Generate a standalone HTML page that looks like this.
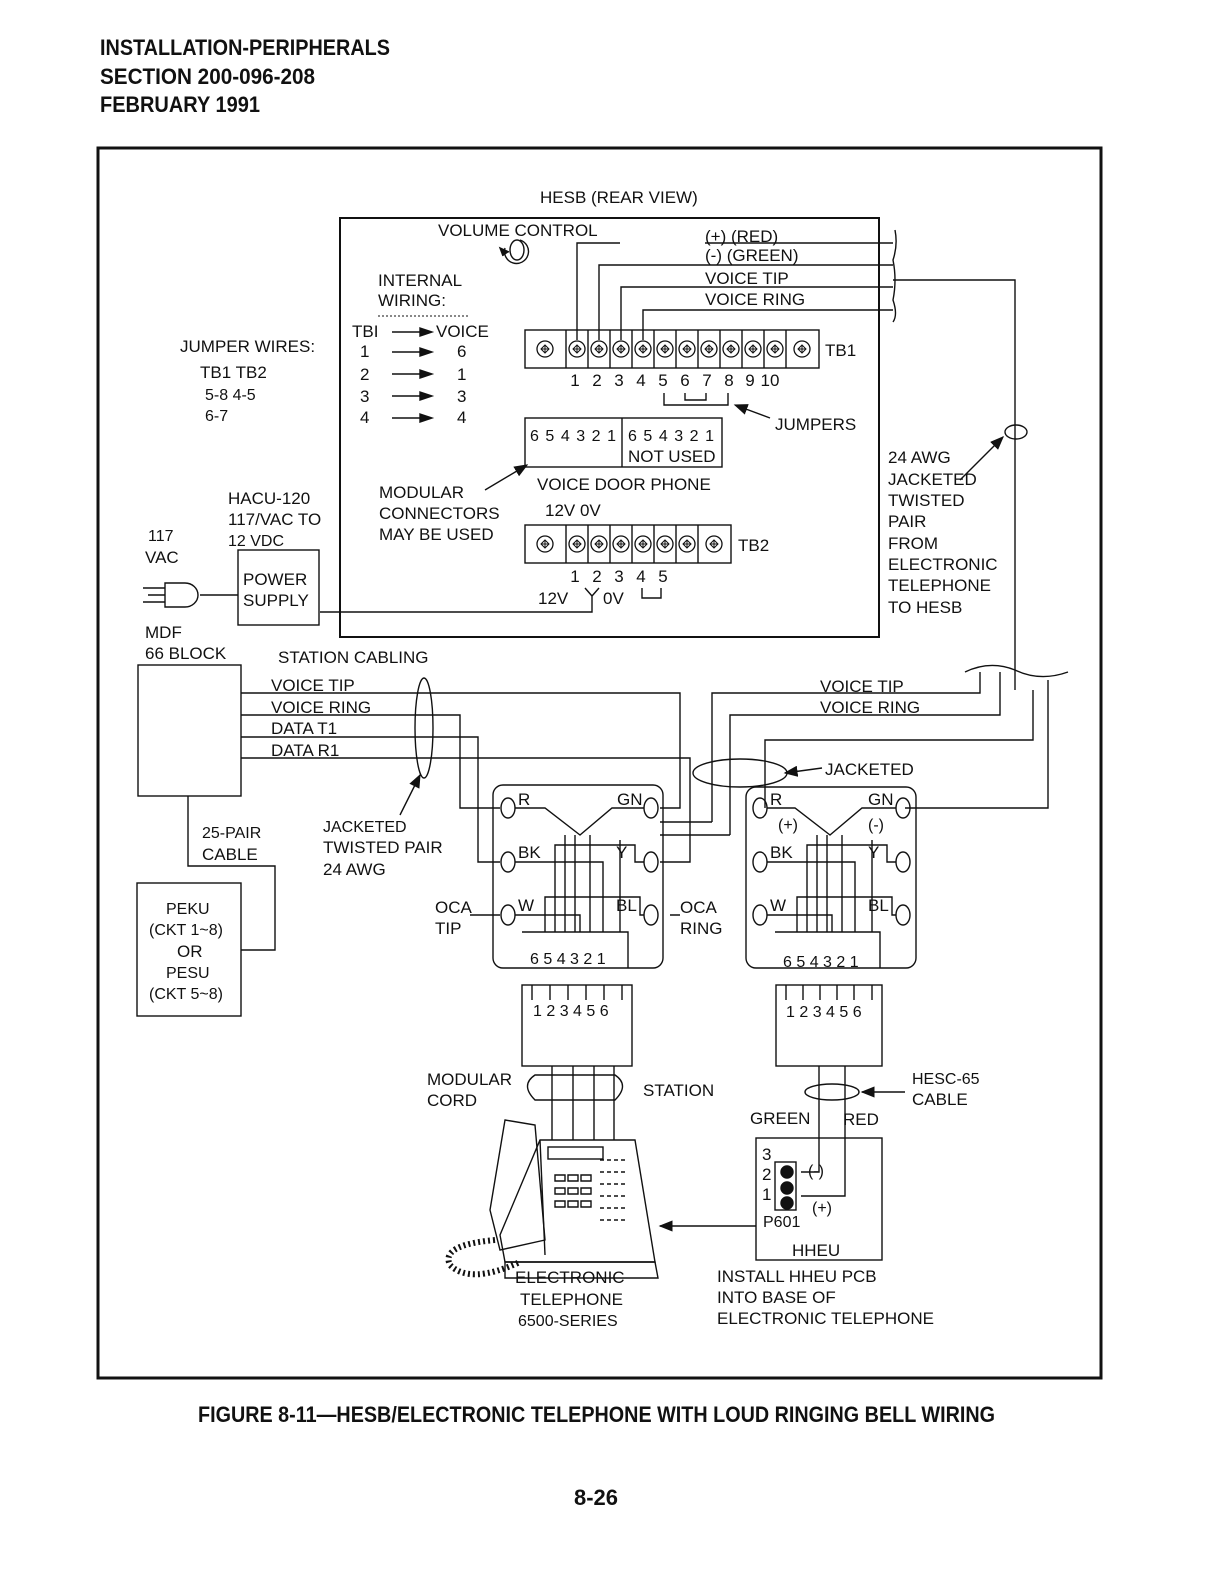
<!DOCTYPE html>
<html><head><meta charset="utf-8"><style>
html,body{margin:0;padding:0;background:#fff}
svg{display:block}
text{font-family:"Liberation Sans",sans-serif;fill:#111}
.h{font-family:"Liberation Sans Narrow","Liberation Sans",sans-serif;font-weight:bold;font-size:22px}
.t{font-size:17px}
.s{font-size:16px}
</style></head><body>
<svg width="1213" height="1584" viewBox="0 0 1213 1584" xmlns="http://www.w3.org/2000/svg">
<defs>
<g id="sc"><circle r="8" fill="#fff" stroke="#111" stroke-width="1.3"/><path d="M-4 0 L0 -4 L4 0 L0 4 Z M0 -4 V4 M-4 0 H4" fill="none" stroke="#111" stroke-width="1"/></g>
<marker id="ar" markerWidth="10" markerHeight="8" refX="9" refY="4" orient="auto"><path d="M0 0 L10 4 L0 8 Z" fill="#111"/></marker>
</defs>
<text class="h" x="100" y="55" textLength="290" lengthAdjust="spacingAndGlyphs">INSTALLATION-PERIPHERALS</text>
<text class="h" x="100" y="84" textLength="215" lengthAdjust="spacingAndGlyphs">SECTION 200-096-208</text>
<text class="h" x="100" y="112" textLength="160" lengthAdjust="spacingAndGlyphs">FEBRUARY 1991</text>

<rect x="98" y="148" width="1003" height="1230" fill="none" stroke="#111" stroke-width="3"/>
<g fill="none" stroke="#111" stroke-width="1.4">
<rect x="340" y="218" width="539" height="419" stroke-width="2"/>
<rect x="525" y="330" width="294" height="38"/>
<path d="M566 330V368M588 330V368M610 330V368M632 330V368M654 330V368M676 330V368M698 330V368M720 330V368M742 330V368M764 330V368M786 330V368"/>
<rect x="525" y="418" width="197" height="49"/><path d="M622 418V467"/>
<rect x="525" y="525" width="206" height="38"/>
<path d="M566 525V563M588 525V563M610 525V563M632 525V563M654 525V563M676 525V563M698 525V563"/>
<path d="M577 340V243H620"/>
<path d="M705 243H893"/>
<path d="M599 340V265H893"/>
<path d="M621 340V287H893"/>
<path d="M643 340V310H893"/>
<path d="M893 280H1015V690"/>
<path d="M895 230 Q898 245 893 260 Q897 280 893 300 Q898 315 893 322"/>
<path d="M664 393V405H728V393M685 393V400H706V393"/>
<path d="M770 418 L735 405" marker-end="url(#ar)"/>
<path d="M485 490 L527 465" marker-end="url(#ar)"/>
<path d="M960 480 L1003 437" marker-end="url(#ar)"/>
<ellipse cx="1016" cy="432" rx="11" ry="7"/>
<path d="M585 588 L592 596 L599 588 M592 596 V612 H320"/>
<path d="M642 588V598H661V588"/>
<path d="M505 248 A12 12 0 1 0 520 240"/>
<path d="M503 256 L500 248 L509 252" fill="#111"/>
<ellipse cx="517" cy="250" rx="7" ry="10"/>
<path d="M392 332H420M392 352H420M392 374H420M392 396H420M392 418H420"/>
<path d="M420 328L432 332L420 336ZM420 348L432 352L420 356ZM420 370L432 374L420 378ZM420 392L432 396L420 400ZM420 414L432 418L420 422Z" fill="#111"/>
<path d="M378 316H470" stroke-dasharray="2 2" stroke-width="1"/>
<rect x="238" y="550" width="81" height="75"/>
<path d="M200 595H238"/>
<path d="M165 583H185A13 12 0 0 1 185 607H165Z"/>
<path d="M143 588H165M143 602H165M148 595H165"/>
<rect x="138" y="665" width="103" height="131"/>
<rect x="137" y="883" width="104" height="133"/>
<path d="M188 796V866H275V950H241"/>
<path d="M241 693H680V808H660"/>
<path d="M241 715H460V808H500"/>
<path d="M241 737H478V862H500"/>
<path d="M241 758H690V862H660"/>
<ellipse cx="424" cy="728" rx="9" ry="50"/>
<path d="M400 815L420 775" marker-end="url(#ar)"/>
<path d="M712 822V693H980V672"/>
<path d="M730 835V715H1000V672"/>
<path d="M765 808V740H1033V690"/>
<path d="M905 808H1048V680"/>
<path d="M660 822H712"/>
<path d="M660 835H730"/>
<path d="M965 672Q990 660 1015 670Q1040 682 1068 672"/>
<ellipse cx="740" cy="773" rx="47" ry="14"/>
<path d="M822 768L785 773" marker-end="url(#ar)"/>
<rect x="493" y="785" width="170" height="183" rx="10"/>
<ellipse cx="508" cy="808" rx="7" ry="10"/><ellipse cx="651" cy="808" rx="7" ry="10"/>
<ellipse cx="508" cy="862" rx="7" ry="10"/><ellipse cx="651" cy="862" rx="7" ry="10"/>
<ellipse cx="508" cy="915" rx="7" ry="10"/><ellipse cx="651" cy="915" rx="7" ry="10"/>
<path d="M515 808H545L580 835L612 808H644M515 862H603V932M644 862H635V845H555V932M515 915H580V932M644 915H640V897H545V932M470 915H500M670 915H680"/>
<path d="M565 835V932M575 835V932M590 835V932M620 840V932"/>
<path d="M522 932H628V968"/>
<rect x="746" y="787" width="170" height="181" rx="10"/>
<ellipse cx="760" cy="808" rx="7" ry="10"/><ellipse cx="903" cy="808" rx="7" ry="10"/>
<ellipse cx="760" cy="862" rx="7" ry="10"/><ellipse cx="903" cy="862" rx="7" ry="10"/>
<ellipse cx="760" cy="915" rx="7" ry="10"/><ellipse cx="903" cy="915" rx="7" ry="10"/>
<path d="M767 808H795L830 835L862 808H896M767 862H855V932M896 862H887V845H807V932M767 915H832V932M896 915H892V897H797V932"/>
<path d="M817 835V932M827 835V932M842 835V932M872 840V932"/>
<path d="M775 932H880V968"/>
<rect x="522" y="985" width="110" height="81"/>
<path d="M532 985V1000M550 985V1000M568 985V1000M586 985V1000M604 985V1000M622 985V1000"/>
<rect x="776" y="985" width="106" height="81"/>
<path d="M786 985V1000M803 985V1000M820 985V1000M837 985V1000M854 985V1000M872 985V1000"/>
<path d="M552 1066V1140M573 1066V1140M594 1066V1140M614 1066V1140"/>
<path d="M535 1075H615Q630 1085 615 1100H535Q520 1085 535 1075Z"/>
<path d="M819 1066V1172H801M845 1066V1196H801"/>
<ellipse cx="832" cy="1092" rx="27" ry="8"/>
<path d="M905 1092L862 1092" marker-end="url(#ar)"/>
<rect x="756" y="1138" width="126" height="122"/>
<rect x="775" y="1162" width="21" height="48"/>
<circle cx="787" cy="1172" r="6" fill="#111"/><circle cx="787" cy="1188" r="6" fill="#111"/><circle cx="787" cy="1203" r="6" fill="#111"/>
<path d="M756 1226H660" marker-end="url(#ar)"/>
<path d="M540 1140H635L655 1262H505L500 1235Z"/>
<path d="M540 1140L545 1255"/>
<path d="M505 1120L535 1125L545 1240L500 1250L490 1210Z"/>
<rect x="548" y="1147" width="55" height="12"/>
<path d="M505 1262H655L658 1278H505Z"/>
<path d="M495 1240Q440 1245 450 1265Q470 1285 520 1262" stroke-width="6" stroke-dasharray="2 3"/>
<path d="M555 1175h10v6h-10zM568 1175h10v6h-10zM581 1175h10v6h-10zM555 1188h10v6h-10zM568 1188h10v6h-10zM581 1188h10v6h-10zM555 1201h10v6h-10zM568 1201h10v6h-10zM581 1201h10v6h-10z"/>
<path d="M600 1160h25M600 1172h25M600 1184h25M600 1196h25M600 1208h25M600 1220h25" stroke-dasharray="4 3"/>
</g>
<g>
<use href="#sc" x="545" y="349"/><use href="#sc" x="577" y="349"/><use href="#sc" x="599" y="349"/><use href="#sc" x="621" y="349"/><use href="#sc" x="643" y="349"/><use href="#sc" x="665" y="349"/><use href="#sc" x="687" y="349"/><use href="#sc" x="709" y="349"/><use href="#sc" x="731" y="349"/><use href="#sc" x="753" y="349"/><use href="#sc" x="775" y="349"/><use href="#sc" x="802" y="349"/>
<use href="#sc" x="545" y="544"/><use href="#sc" x="577" y="544"/><use href="#sc" x="599" y="544"/><use href="#sc" x="621" y="544"/><use href="#sc" x="643" y="544"/><use href="#sc" x="665" y="544"/><use href="#sc" x="687" y="544"/><use href="#sc" x="714" y="544"/>
</g>
<g class="t">
<text x="540" y="203">HESB (REAR VIEW)</text>
<text x="438" y="236">VOLUME CONTROL</text>
<text x="705" y="242">(+)  (RED)</text>
<text x="705" y="261">(-)  (GREEN)</text>
<text x="705" y="284">VOICE TIP</text>
<text x="705" y="305">VOICE RING</text>
<text x="378" y="286">INTERNAL</text>
<text x="378" y="306">WIRING:</text>
<text x="352" y="337">TBI</text><text x="436" y="337">VOICE</text>
<text x="360" y="357">1</text><text x="457" y="357">6</text>
<text x="360" y="380">2</text><text x="457" y="380">1</text>
<text x="360" y="402">3</text><text x="457" y="402">3</text>
<text x="360" y="423">4</text><text x="457" y="423">4</text>
<text x="825" y="356">TB1</text>
<g text-anchor="middle">
<text x="575" y="386">1</text><text x="597" y="386">2</text><text x="619" y="386">3</text><text x="641" y="386">4</text><text x="663" y="386">5</text><text x="685" y="386">6</text><text x="707" y="386">7</text><text x="729" y="386">8</text><text x="750" y="386">9</text><text x="770" y="386">10</text>
<text x="575" y="582">1</text><text x="597" y="582">2</text><text x="619" y="582">3</text><text x="641" y="582">4</text><text x="663" y="582">5</text>
</g>
<text x="775" y="430">JUMPERS</text>
<text x="530" y="441" class="s" textLength="86">6 5 4 3 2 1</text>
<text x="628" y="441" class="s" textLength="86">6 5 4 3 2 1</text>
<text x="628" y="462">NOT USED</text>
<text x="537" y="490">VOICE   DOOR PHONE</text>
<text x="545" y="516">12V 0V</text>
<text x="738" y="551">TB2</text>
<text x="538" y="604">12V</text><text x="603" y="604">0V</text>
<text x="379" y="498">MODULAR</text>
<text x="379" y="519">CONNECTORS</text>
<text x="379" y="540">MAY BE USED</text>
<text x="180" y="352">JUMPER WIRES:</text>
<text x="200" y="378">TB1   TB2</text>
<text x="205" y="400" class="s">5-8    4-5</text>
<text x="205" y="421" class="s">6-7</text>
<text x="228" y="504">HACU-120</text>
<text x="228" y="525">117/VAC TO</text>
<text x="228" y="546" class="s">12 VDC</text>
<text x="148" y="541" class="s">117</text>
<text x="145" y="563">VAC</text>
<text x="243" y="585">POWER</text>
<text x="243" y="606">SUPPLY</text>
<text x="888" y="463">24 AWG</text>
<text x="888" y="485">JACKETED</text>
<text x="888" y="506">TWISTED</text>
<text x="888" y="527">PAIR</text>
<text x="888" y="549">FROM</text>
<text x="888" y="570">ELECTRONIC</text>
<text x="888" y="591">TELEPHONE</text>
<text x="888" y="613">TO HESB</text>
<text x="145" y="638">MDF</text>
<text x="145" y="659">66 BLOCK</text>
<text x="278" y="663">STATION CABLING</text>
<text x="271" y="691">VOICE TIP</text>
<text x="271" y="713">VOICE RING</text>
<text x="271" y="734">DATA T1</text>
<text x="271" y="756">DATA R1</text>
<text x="820" y="692">VOICE TIP</text>
<text x="820" y="713">VOICE RING</text>
<text x="825" y="775">JACKETED</text>
<text x="202" y="838" class="s">25-PAIR</text>
<text x="202" y="860">CABLE</text>
<text x="323" y="832" class="s">JACKETED</text>
<text x="323" y="853">TWISTED PAIR</text>
<text x="323" y="875">24 AWG</text>
<text x="166" y="914" class="s">PEKU</text>
<text x="149" y="935" class="s">(CKT 1~8)</text>
<text x="177" y="957">OR</text>
<text x="166" y="978" class="s">PESU</text>
<text x="149" y="999" class="s">(CKT 5~8)</text>
<text x="518" y="805">R</text><text x="617" y="805">GN</text>
<text x="518" y="858">BK</text><text x="616" y="858">Y</text>
<text x="518" y="911">W</text><text x="616" y="911">BL</text>
<text x="770" y="805">R</text><text x="868" y="805">GN</text>
<text x="778" y="830" class="s">(+)</text><text x="868" y="830" class="s">(-)</text>
<text x="770" y="858">BK</text><text x="868" y="858">Y</text>
<text x="770" y="911">W</text><text x="868" y="911">BL</text>
<text x="435" y="913">OCA</text><text x="435" y="934">TIP</text>
<text x="680" y="913">OCA</text><text x="680" y="934">RING</text>
<text x="530" y="964" class="s">6 5 4 3 2 1</text>
<text x="783" y="967" class="s">6 5 4 3 2 1</text>
<text x="533" y="1016" class="s">1 2 3 4 5 6</text>
<text x="786" y="1017" class="s">1 2 3 4 5 6</text>
<text x="427" y="1085">MODULAR</text>
<text x="427" y="1106">CORD</text>
<text x="643" y="1096">STATION</text>
<text x="912" y="1084" class="s">HESC-65</text>
<text x="912" y="1105">CABLE</text>
<text x="750" y="1124">GREEN</text>
<text x="843" y="1125">RED</text>
<text x="762" y="1160">3</text><text x="762" y="1180">2</text><text x="762" y="1200">1</text>
<text x="808" y="1176" class="s">(-)</text>
<text x="812" y="1213" class="s">(+)</text>
<text x="763" y="1227" class="s">P601</text>
<text x="792" y="1256">HHEU</text>
<text x="515" y="1283">ELECTRONIC</text>
<text x="520" y="1305">TELEPHONE</text>
<text x="518" y="1326" class="s">6500-SERIES</text>
<text x="717" y="1282">INSTALL HHEU PCB</text>
<text x="717" y="1303">INTO BASE OF</text>
<text x="717" y="1324">ELECTRONIC TELEPHONE</text>
</g>
<text class="h" x="198" y="1422" textLength="797" lengthAdjust="spacingAndGlyphs">FIGURE 8-11—HESB/ELECTRONIC TELEPHONE WITH LOUD RINGING BELL WIRING</text>
<text class="h" x="574" y="1505" textLength="44" lengthAdjust="spacingAndGlyphs">8-26</text>
</svg>
</body></html>
